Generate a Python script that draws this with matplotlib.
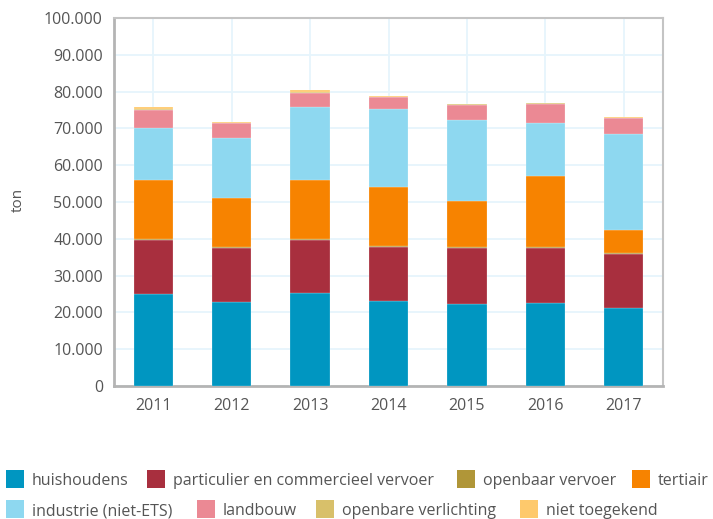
import matplotlib
matplotlib.use("Agg")
import matplotlib.pyplot as plt
from matplotlib.patches import Rectangle
from matplotlib.ticker import FuncFormatter
import numpy as np

years = ["2011", "2012", "2013", "2014", "2015", "2016", "2017"]
huishoudens = [25000, 22900, 25200, 23200, 22400, 22600, 21100]
particulier = [14700, 14600, 14600, 14700, 15200, 15000, 14800]
openbaar_vervoer = [150, 150, 150, 150, 150, 150, 150]
tertiair = [16050, 13550, 16050, 16050, 12650, 19250, 6250]
industrie = [14300, 16300, 19700, 21200, 22000, 14600, 26200]
landbouw = [4800, 3900, 3900, 3100, 3900, 5000, 4200]
openbare_verlichting = [200, 200, 200, 200, 200, 200, 200]
niet_toegekend = [500, 200, 500, 200, 200, 200, 300]

labels = ["huishoudens", "particulier en commercieel vervoer", "openbaar vervoer",
          "tertiair", "industrie (niet-ETS)", "landbouw", "openbare verlichting",
          "niet toegekend"]
series = [huishoudens, particulier, openbaar_vervoer, tertiair, industrie,
          landbouw, openbare_verlichting, niet_toegekend]
colors = ["#0096c1", "#a82f3e", "#b09638", "#f78300", "#8ed8f0", "#eb8994",
          "#d8c06a", "#fec96c"]

FONT = ["Open Sans", "DejaVu Sans"]
plt.rcParams["font.family"] = FONT
TXT = "#555555"

fig = plt.figure(figsize=(7.13, 5.19), dpi=100)
ax = fig.add_axes([114/713, 1-386/519, (663-114)/713, (386-18)/519])

x = np.arange(len(years))
bottom = np.zeros(len(years))
for vals, c in zip(series, colors):
    v = np.array(vals, dtype=float)
    ax.bar(x, v, width=0.5, bottom=bottom, color=c, edgecolor="#ffffff",
           linewidth=0.15, zorder=3)
    bottom += v

ax.set_xlim(-0.5, len(years) - 0.5)
ax.set_ylim(0, 100000)
ax.set_yticks(np.arange(0, 100001, 10000))
ax.yaxis.set_major_formatter(FuncFormatter(lambda v, p: f"{int(v):,}".replace(",", ".")))
ax.set_xticks(x)
ax.set_xticklabels(years)
ax.tick_params(axis="both", length=0, labelsize=11.5, colors=TXT, pad=8)
ax.tick_params(axis="x", pad=9)
ax.grid(True, color="#e6f5fc", linewidth=1.3, zorder=0)
ax.set_axisbelow(True)
for side in ["left", "bottom"]:
    ax.spines[side].set_color("#b4b4b4")
    ax.spines[side].set_linewidth(2)
for side in ["top", "right"]:
    ax.spines[side].set_color("#c4c4c4")
    ax.spines[side].set_linewidth(1.5)

fig.text(18/713, 1-200/519, "ton", rotation=90, ha="center", va="center",
         fontsize=11, color=TXT)

# legend (two rows, flow layout positions)
row_y = [479, 509]
xs = [[6, 147, 457, 632], [6, 197, 316, 520]]
W, H = 713, 519
idx = 0
for r in range(2):
    for xx in xs[r]:
        rect = Rectangle((xx / W, 1 - (row_y[r] + 9) / H), 18 / W, 18 / H,
                         transform=fig.transFigure, facecolor=colors[idx],
                         edgecolor="none")
        fig.patches.append(rect)
        fig.text((xx + 26) / W, 1 - row_y[r] / H, labels[idx], ha="left",
                 va="center_baseline", fontsize=11.5, color=TXT)
        idx += 1

fig.savefig("out.png", dpi=100)
